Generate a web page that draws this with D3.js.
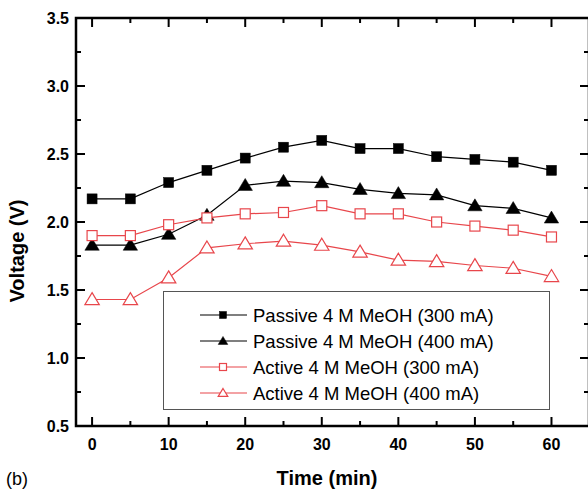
<!DOCTYPE html>
<html>
<head>
<meta charset="utf-8">
<script src="https://cdn.jsdelivr.net/npm/d3@7"></script>
<style>
  body { margin: 0; background: #fff; }
  text { font-family: "Liberation Sans", Arial, sans-serif; }
</style>
</head>
<body>
<div id="chart"></div>
<script>
/* DATA */
const times = [0, 5, 10, 15, 20, 25, 30, 35, 40, 45, 50, 55, 60];
const passive300 = [2.17, 2.17, 2.29, 2.38, 2.47, 2.55, 2.60, 2.54, 2.54, 2.48, 2.46, 2.44, 2.38];
const passive400 = [1.83, 1.83, 1.91, 2.05, 2.27, 2.30, 2.29, 2.24, 2.21, 2.20, 2.12, 2.10, 2.03];
const active300 = [1.90, 1.90, 1.98, 2.03, 2.06, 2.07, 2.12, 2.06, 2.06, 2.00, 1.97, 1.94, 1.89];
const active400 = [1.43, 1.43, 1.59, 1.81, 1.84, 1.86, 1.83, 1.78, 1.72, 1.71, 1.68, 1.66, 1.60];
const seriesNames = [
  "Passive 4 M MeOH (300 mA)",
  "Passive 4 M MeOH (400 mA)",
  "Active 4 M MeOH (300 mA)",
  "Active 4 M MeOH (400 mA)"
];
const xTicks = [0, 10, 20, 30, 40, 50, 60];
const yTicks = [0.5, 1.0, 1.5, 2.0, 2.5, 3.0, 3.5];

/* CONSTANTS */
const width = 588, height = 490;
const margin = { top: 18, bottom: 64, left: 76, right: -1 };
const red = "#e8464b";

const series = [
  { name: seriesNames[0], values: passive300, color: "#000", shape: "square", filled: true },
  { name: seriesNames[1], values: passive400, color: "#000", shape: "triangle", filled: true },
  { name: seriesNames[2], values: active300, color: red, shape: "square", filled: false },
  { name: seriesNames[3], values: active400, color: red, shape: "triangle", filled: false }
];

const svg = d3.select("#chart").append("svg")
  .attr("width", width)
  .attr("height", height);

// scales
const xScale = d3.scaleLinear()
  .domain([-2.1, 64.9])
  .range([margin.left, width - margin.right]);

const yScale = d3.scaleLinear()
  .domain([0.5, 3.5])
  .range([height - margin.bottom, margin.top]);

const x0 = xScale.range()[0], x1 = xScale.range()[1];
const y0 = yScale.range()[0], y1 = yScale.range()[1];

// inward ticks on all four sides
const minorX = d3.range(0, 61, 5);
const minorY = d3.range(0.5, 3.51, 0.25);

function tickLen(isMajor) { return isMajor ? 9 : 5; }

const ticks = svg.append("g").attr("stroke", "#000").attr("stroke-width", 2);
minorX.forEach(t => {
  const major = t % 10 === 0;
  ticks.append("line").attr("x1", xScale(t)).attr("x2", xScale(t))
    .attr("y1", y0).attr("y2", y0 - tickLen(major));
  ticks.append("line").attr("x1", xScale(t)).attr("x2", xScale(t))
    .attr("y1", y1).attr("y2", y1 + tickLen(major));
});
minorY.forEach(t => {
  const major = Math.abs(t * 2 - Math.round(t * 2)) < 1e-6;
  ticks.append("line").attr("y1", yScale(t)).attr("y2", yScale(t))
    .attr("x1", x0).attr("x2", x0 + tickLen(major));
  ticks.append("line").attr("y1", yScale(t)).attr("y2", yScale(t))
    .attr("x1", x1).attr("x2", x1 - tickLen(major));
});

// frame
svg.append("rect")
  .attr("x", x0).attr("y", y1)
  .attr("width", x1 - x0).attr("height", y0 - y1)
  .attr("fill", "none").attr("stroke", "#000").attr("stroke-width", 2.5);

// tick labels
svg.append("g").selectAll("text").data(xTicks).join("text")
  .attr("x", d => xScale(d)).attr("y", y0 + 24)
  .attr("text-anchor", "middle")
  .attr("font-size", 16).attr("font-weight", "bold")
  .text(d => d);

svg.append("g").selectAll("text").data(yTicks).join("text")
  .attr("x", x0 - 7).attr("y", d => yScale(d) + 6)
  .attr("text-anchor", "end")
  .attr("font-size", 16).attr("font-weight", "bold")
  .text(d => d.toFixed(1));

// axis titles
svg.append("text")
  .attr("x", 327).attr("y", 485)
  .attr("text-anchor", "middle")
  .attr("font-size", 20).attr("font-weight", "bold")
  .text("Time (min)");

svg.append("text")
  .attr("transform", `translate(24,251) rotate(-90)`)
  .attr("text-anchor", "middle")
  .attr("font-size", 20).attr("font-weight", "bold")
  .text("Voltage (V)");

svg.append("text")
  .attr("x", 6).attr("y", 485)
  .attr("font-size", 18)
  .text("(b)");

// markers
function drawMarker(g, shape, cx, cy, size, s) {
  if (shape === "square") {
    g.append("rect")
      .attr("x", cx - size / 2).attr("y", cy - size / 2)
      .attr("width", size).attr("height", size)
      .attr("fill", s.filled ? s.color : "#fff")
      .attr("stroke", s.color).attr("stroke-width", s.filled ? 0.5 : 1.2);
  } else {
    const h = size * 0.95;
    g.append("path")
      .attr("d", `M${cx},${cy - h * 0.6}L${cx + size * 0.6},${cy + h * 0.45}L${cx - size * 0.6},${cy + h * 0.45}Z`)
      .attr("fill", s.filled ? s.color : "#fff")
      .attr("stroke", s.color).attr("stroke-width", s.filled ? 0.5 : 1.2);
  }
}

const line = d3.line()
  .x((d, i) => xScale(times[i]))
  .y(d => yScale(d));

series.forEach(s => {
  const g = svg.append("g");
  g.append("path")
    .attr("d", line(s.values))
    .attr("fill", "none")
    .attr("stroke", s.color)
    .attr("stroke-width", 1.2);
  s.values.forEach((v, i) => {
    drawMarker(g, s.shape, xScale(times[i]), yScale(v), s.shape === "square" ? 10 : 12, s);
  });
});

// legend
const legend = svg.append("g");
legend.append("rect")
  .attr("x", 163.5).attr("y", 291.5)
  .attr("width", 386).attr("height", 118)
  .attr("fill", "#fff").attr("stroke", "#555").attr("stroke-width", 1);

series.forEach((s, i) => {
  const cy = 315 + i * 26;
  legend.append("line")
    .attr("x1", 200).attr("x2", 247)
    .attr("y1", cy).attr("y2", cy)
    .attr("stroke", s.color).attr("stroke-width", 1.2);
  drawMarker(legend, s.shape, 223, cy, s.shape === "square" ? 7 : 8, s);
  legend.append("text")
    .attr("x", 253).attr("y", cy + 6.5)
    .attr("font-size", 18.5)
    .text(s.name);
});
</script>
</body>
</html>
